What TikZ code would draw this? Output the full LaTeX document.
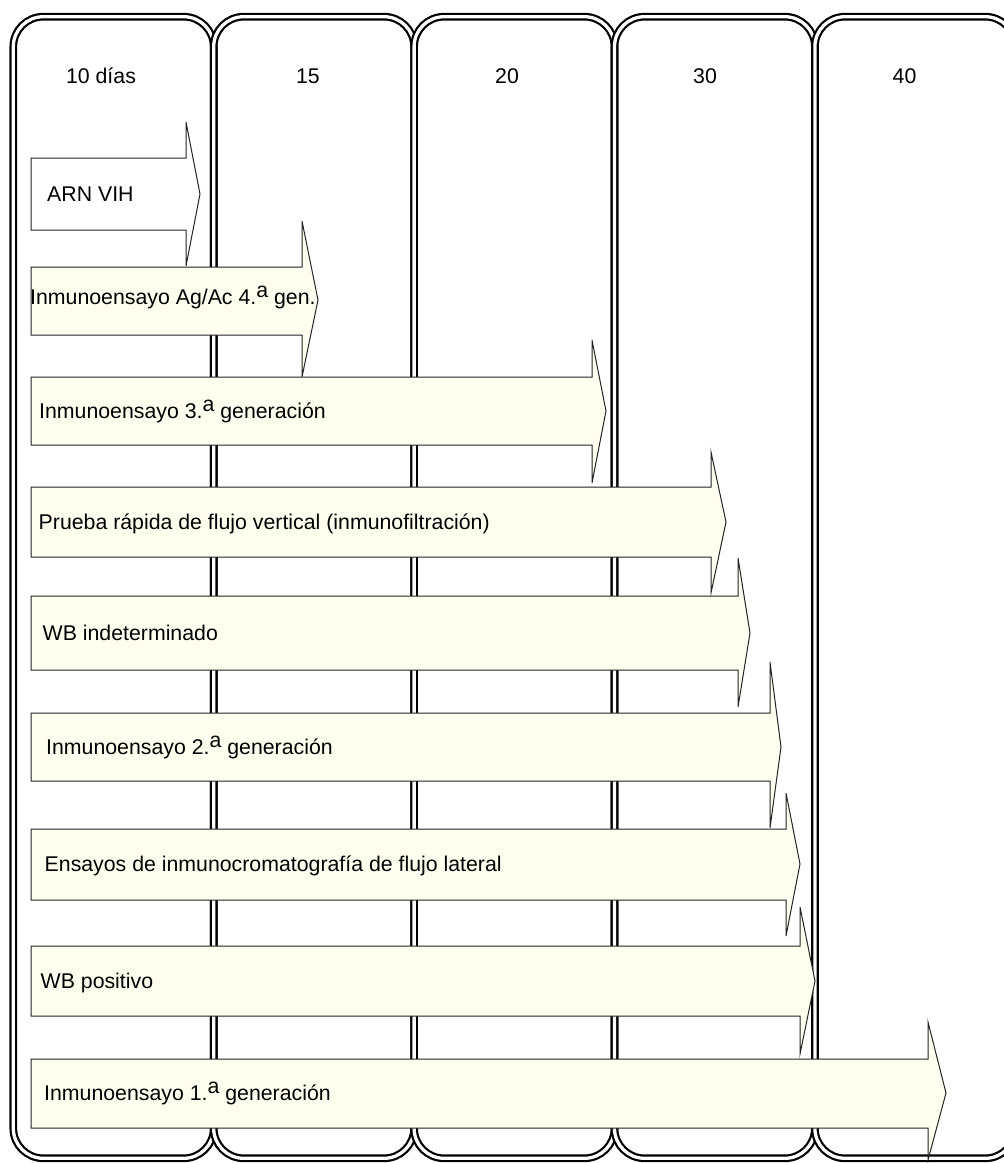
\documentclass[tikz,border=0pt]{standalone}
\usepackage{fontspec}
\setmainfont{Liberation Sans}
\usepackage{tikz}
\usetikzlibrary{positioning}
\definecolor{dfcream}{RGB}{255,255,240}
\definecolor{dfline}{RGB}{35,35,35}
\newcommand{\ordsup}{\raisebox{7pt}{a}}
\tikzstyle{daycolumn} = [rectangle, rounded corners=30pt, minimum width=200.4pt, minimum height=1141.6pt, draw=black, line width=2.2pt, double=white, double distance=3.3pt, inner sep=0pt, outer sep=0pt]
\tikzstyle{daylabel} = [anchor=base, inner sep=0pt, font=\fontsize{21.3}{25}\selectfont]
\tikzstyle{testarrow} = [draw=dfline, line width=1pt, fill=dfcream]
\tikzstyle{testlabel} = [anchor=base west, inner sep=0pt, font=\fontsize{21.3}{25}\selectfont]
\begin{document}
\begin{tikzpicture}[x=1pt, y=-1pt]
\useasboundingbox (0,0) rectangle (1004,1163);
% Day columns
\node[daycolumn] (col10) at (113.5, 587.5) {};
\node[daycolumn, right=0pt of col10] (col15) {};
\node[daycolumn, right=0pt of col15] (col20) {};
\node[daycolumn, right=0pt of col20] (col30) {};
\node[daycolumn, right=0pt of col30] (col40) {};

% Day headers
\node[daylabel] (lbl10) at (101, 83) {10 días};
\node[daylabel] (lbl15) at (308, 83) {15};
\node[daylabel] (lbl20) at (507, 83) {20};
\node[daylabel] (lbl30) at (705, 83) {30};
\node[daylabel] (lbl40) at (904.5, 83) {40};

% Window periods
\draw[testarrow, fill=white] (31,158) -- (186,158) -- (186,122) -- (200,194) -- (186,266) -- (186,230) -- (31,230) -- cycle;
\node[testlabel] (arn) at (47, 201.5) {ARN VIH};

\draw[testarrow] (31,267) -- (302,267) -- (302,221) -- (318,300) -- (302,377) -- (302,335) -- (31,335) -- cycle;
\node[testlabel] (agac) at (30, 304) {Inmunoensayo Ag/Ac 4.\ordsup\ gen.};

\draw[testarrow] (31,377) -- (592,377) -- (592,340) -- (606,411) -- (592,483) -- (592,445) -- (31,445) -- cycle;
\node[testlabel] (gen3) at (39, 418.5) {Inmunoensayo 3.\ordsup\ generación};

\draw[testarrow] (31,487) -- (711,487) -- (711,452) -- (726,522) -- (711,593) -- (711,557) -- (31,557) -- cycle;
\node[testlabel] (vertical) at (38.5, 529.5) {Prueba rápida de flujo vertical (inmunofiltración)};

\draw[testarrow] (31,596) -- (738,596) -- (738,558) -- (750,633) -- (738,707) -- (738,670) -- (31,670) -- cycle;
\node[testlabel] (wbind) at (42.5, 640) {WB indeterminado};

\draw[testarrow] (31,713) -- (770,713) -- (770,662) -- (781,747) -- (770,828) -- (770,781) -- (31,781) -- cycle;
\node[testlabel] (gen2) at (46, 754.5) {Inmunoensayo 2.\ordsup\ generación};

\draw[testarrow] (31,829) -- (786,829) -- (786,793) -- (800,864) -- (786,936) -- (786,900) -- (31,900) -- cycle;
\node[testlabel] (lateral) at (44.5, 871.5) {Ensayos de inmunocromatografía de flujo lateral};

\draw[testarrow] (31,946) -- (800,946) -- (800,907) -- (815,981) -- (800,1054) -- (800,1016) -- (31,1016) -- cycle;
\node[testlabel] (wbpos) at (40.5, 988.5) {WB positivo};

\draw[testarrow] (31,1059) -- (928,1059) -- (928,1022) -- (946,1093) -- (928,1160) -- (928,1128) -- (31,1128) -- cycle;
\node[testlabel] (gen1) at (44, 1100.5) {Inmunoensayo 1.\ordsup\ generación};
\end{tikzpicture}
\end{document}
